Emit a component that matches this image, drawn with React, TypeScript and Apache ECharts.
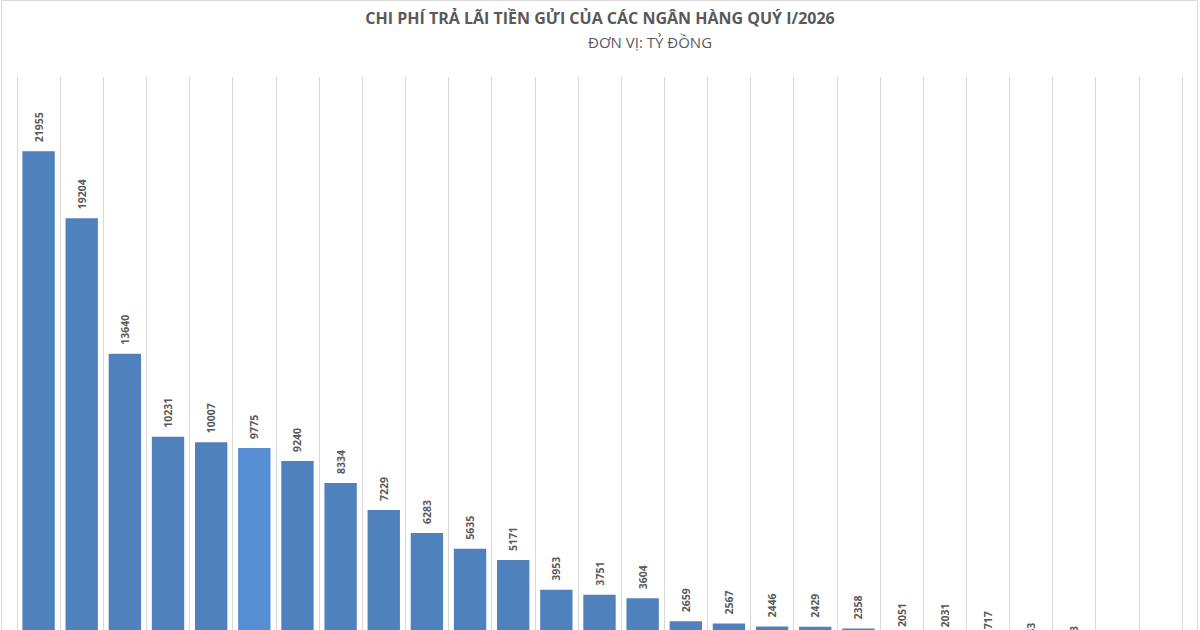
import React, { useEffect, useRef } from "react";
import * as echarts from "echarts";

const categories: string[] = [
  "NH 1", "NH 2", "NH 3", "NH 4", "NH 5", "NH 6", "NH 7", "NH 8", "NH 9",
  "NH 10", "NH 11", "NH 12", "NH 13", "NH 14", "NH 15", "NH 16", "NH 17", "NH 18",
  "NH 19", "NH 20", "NH 21", "NH 22", "NH 23", "NH 24", "NH 25", "NH 26", "NH 27",
];

const values: number[] = [
  21955, 19204, 13640, 10231, 10007, 9775, 9240, 8334, 7229, 6283, 5635, 5171,
  3953, 3751, 3604, 2659, 2567, 2446, 2429, 2358, 2051, 2031, 1717, 1243, 1103,
  850, 600,
];

const highlightIndex = 5;

const TITLE = "CHI PHÍ TRẢ LÃI TIỀN GỬI CỦA CÁC NGÂN HÀNG QUÝ I/2026";
const SUBTITLE = "ĐƠN VỊ: TỶ ĐỒNG";

export default function App() {
  const ref = useRef<HTMLDivElement>(null);

  useEffect(() => {
    document.body.style.margin = "0";
    document.body.style.overflow = "hidden";
    if (!ref.current) return;
    const chart = echarts.init(ref.current, undefined, { renderer: "svg" });
    chart.setOption({
      animation: false,
      backgroundColor: "#ffffff",
      title: [
        {
          text: TITLE,
          left: "center",
          top: 5,
          textStyle: {
            fontFamily: "Open Sans",
            fontSize: 16,
            fontWeight: "bold",
            color: "#595959",
          },
        },
        {
          text: SUBTITLE,
          left: 583,
          top: 29,
          textStyle: {
            fontFamily: "Open Sans",
            fontSize: 15,
            fontWeight: "normal",
            color: "#595959",
          },
        },
      ],
      graphic: [
        {
          type: "rect",
          shape: { x: 1.5, y: 0.5, width: 1196, height: 760 },
          style: { fill: "none", stroke: "#d9d9d9", lineWidth: 1 },
          silent: true,
        },
      ],
      grid: { left: 17, top: 77, width: 1165, height: 609 },
      xAxis: {
        type: "category",
        data: categories,
        boundaryGap: true,
        axisLine: { show: false },
        axisTick: { show: false, interval: 0 },
        axisLabel: { show: false, interval: 0 },
        splitLine: {
          show: true,
          interval: 0,
          lineStyle: { color: "#d9d9d9", width: 1 },
        },
      },
      yAxis: {
        type: "value",
        min: 0,
        max: 25000,
        show: false,
        splitLine: { show: false },
      },
      series: [
        {
          type: "bar",
          barWidth: "75%",
          data: values.map((v, i) =>
            i === highlightIndex
              ? { value: v, itemStyle: { color: "#558ed5" } }
              : v
          ),
          itemStyle: { color: "#4f81bd" },
          label: {
            show: true,
            position: "top",
            rotate: 90,
            align: "left",
            verticalAlign: "middle",
            distance: 9,
            fontFamily: "Open Sans",
            fontSize: 10.5,
            fontWeight: "bold",
            color: "#595959",
          },
        },
      ],
    });
    return () => chart.dispose();
  }, []);

  return <div ref={ref} style={{ width: 1200, height: 760 }} />;
}
